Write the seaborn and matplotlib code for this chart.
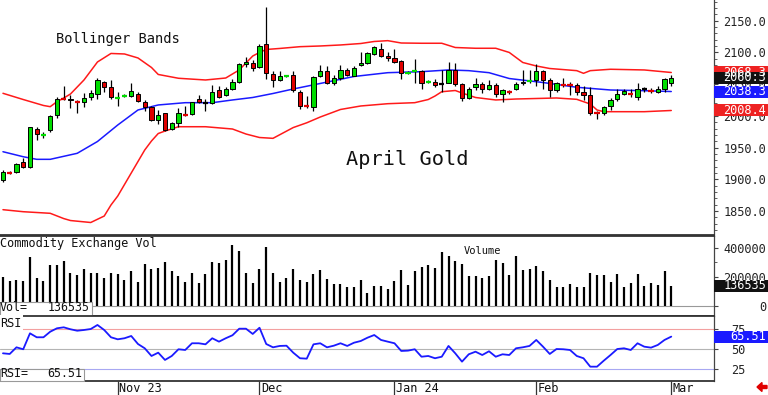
import numpy as np
import pandas as pd
import matplotlib
matplotlib.use("Agg")
import matplotlib.pyplot as plt
import matplotlib.transforms as mtransforms
from matplotlib.patches import Rectangle, FancyArrow
from matplotlib.ticker import MultipleLocator
import seaborn as sns

# April gold, daily bars (x = trading day index)
opens = [1899, 1911, 1912, 1927, 1919, 1979, 1969, 1978, 2001, 2028,
         2027, 2023, 2022, 2030, 2034, 2054, 2045, 2027, 2031, 2031,
         2035, 2021, 2014, 1994, 2004, 1980, 1988, 2003, 2003, 2026,
         2019.5, 2020, 2040, 2033, 2042, 2054, 2082, 2084, 2077, 2113,
         2066, 2057, 2062, 2064, 2038, 2016, 2014, 2063, 2070, 2052,
         2059, 2073, 2063, 2080, 2084, 2097, 2106, 2094, 2091, 2087,
         2067, 2070, 2071, 2053, 2054, 2050, 2052, 2072, 2050, 2028,
         2045, 2050, 2042, 2049, 2035, 2039, 2043, 2051, 2054, 2056,
         2071, 2056, 2040, 2050, 2050, 2049, 2038, 2033, 2005, 2004,
         2015, 2026, 2035, 2035, 2030, 2042, 2040, 2038, 2043, 2051]
highs = [1914, 1913, 1926, 1933, 1983, 1982, 1974, 2002, 2030, 2047,
         2033, 2025, 2036, 2041, 2059, 2055, 2056, 2037, 2034, 2052,
         2037, 2025, 2016, 2009, 2005, 1991, 2012, 2015, 2022, 2033,
         2026, 2049, 2047, 2045, 2058, 2083, 2092, 2088, 2114, 2171,
         2070, 2070, 2065, 2070, 2040, 2031, 2062, 2080, 2079, 2064,
         2080, 2075, 2078, 2101, 2101, 2110, 2115, 2101, 2106, 2088,
         2070, 2089, 2072, 2057, 2058, 2072, 2085, 2084, 2052, 2045,
         2059, 2054, 2056, 2052, 2042, 2041, 2054, 2072, 2072, 2082,
         2073, 2059, 2054, 2059, 2054, 2051, 2047, 2045, 2007, 2016,
         2028, 2043, 2043, 2043, 2051, 2045, 2044, 2047, 2059, 2064]
lows = [1895, 1908, 1910, 1918, 1917, 1962, 1965, 1975, 1997, 2025,
        2012, 2005, 2014, 2025, 2027, 2038, 2026, 2016, 2029, 2030,
        2022, 2007, 1992, 1987, 1976, 1978, 1982, 2000, 2001, 2020,
        2007, 2019, 2028, 2031, 2040, 2052, 2077, 2070, 2075, 2058,
        2046, 2055, 2061, 2038, 2010, 2013, 2007, 2061, 2050, 2049,
        2056, 2062, 2062, 2079, 2082, 2096, 2092, 2087, 2083, 2058,
        2066, 2051, 2042, 2052, 2046, 2037, 2051, 2047, 2024, 2026,
        2041, 2036, 2040, 2030, 2022, 2035, 2041, 2049, 2051, 2047,
        2043, 2030, 2038, 2045, 2033, 2033, 2025, 2001, 1995, 2002,
        2009, 2024, 2033, 2030, 2025, 2037, 2036, 2036, 2037, 2047]
closes = [1912, 1910, 1924, 1919, 1982, 1971, 1970, 2000, 2026, 2027,
          2025, 2022, 2028, 2036, 2056, 2045, 2030, 2028, 2032, 2039,
          2023, 2014, 1993, 2001, 1978, 1988, 2004, 2002, 2021, 2021,
          2019.5, 2038, 2030, 2042, 2054, 2082, 2085, 2075, 2110, 2068,
          2057, 2062, 2063, 2040, 2016, 2015, 2061, 2070, 2052, 2059,
          2072, 2064, 2076, 2083, 2099, 2108, 2094, 2091, 2085, 2067,
          2068, 2071, 2052, 2054, 2049, 2050, 2072, 2050, 2028, 2043,
          2050, 2042, 2049, 2034, 2040, 2038, 2050, 2053, 2055, 2071,
          2057, 2040, 2051, 2049, 2049, 2038, 2033, 2004, 2004, 2014,
          2025, 2034, 2039, 2034, 2043, 2042, 2039, 2043, 2058, 2060.3]

volume = [200000, 172200, 177100, 172200, 338900, 188900, 172200, 281200, 281200, 309000,
          223600, 211800, 251400, 227800, 227800, 188900, 223600, 218700, 177100, 239600,
          165300, 288200, 251400, 262500, 300000, 241700, 204800, 161100, 227800, 158300,
          218700, 304100, 293000, 316000, 420100, 380500, 223600, 158300, 251400, 408300,
          227800, 165300, 188900, 251400, 177100, 165300, 216700, 246500, 181900, 149300,
          149300, 130500, 126400, 177100, 84700, 135400, 135400, 112500, 172200, 246500,
          142400, 237500, 269400, 283300, 260400, 371500, 343700, 311100, 288200, 204800,
          204800, 188900, 204800, 316000, 293000, 211800, 343700, 246500, 251400, 274300,
          241700, 177100, 130500, 130500, 149300, 126400, 126400, 227800, 211800, 211800,
          165300, 218700, 126400, 154200, 218700, 135400, 158300, 142400, 237500, 136535]

rsi = [44.9, 44.1, 52.3, 49.9, 69.6, 64.7, 64.7, 71.6, 75.8, 77.0,
       74.6, 72.8, 73.7, 74.9, 79.9, 73.7, 64.7, 62.2, 63.5, 66.3,
       56.4, 51.1, 41.6, 45.7, 36.7, 41.6, 49.9, 49.0, 57.3, 57.3,
       56.0, 63.5, 59.3, 63.5, 67.2, 75.3, 75.3, 68.8, 76.5, 56.4,
       52.3, 54.0, 54.3, 45.7, 38.8, 38.3, 56.0, 57.3, 52.3, 54.3,
       57.3, 54.0, 58.0, 60.1, 64.2, 67.5, 61.4, 59.3, 57.3, 47.8,
       48.2, 49.9, 40.7, 41.6, 38.8, 40.7, 54.0, 44.9, 34.6, 43.7,
       46.9, 42.8, 47.4, 40.7, 43.7, 42.8, 51.1, 52.3, 54.0, 61.4,
       53.1, 44.1, 50.2, 49.9, 49.0, 41.6, 38.8, 28.4, 28.4, 35.8,
       42.8, 50.2, 51.1, 49.0, 57.3, 53.1, 51.9, 55.2, 61.4, 65.51]

# Bollinger bands at these bars
upper_idx = [0, 3, 6, 7, 8, 9, 10, 12, 14, 16, 18, 20, 22, 23, 26, 30, 33, 35, 37, 38,
             39, 41, 44, 47, 50, 53, 55, 57, 59, 62, 65, 67, 70, 73, 75, 77, 79, 81, 85, 86,
             87, 90, 95, 99]
upper_val = [2035.5, 2025.7, 2016.3, 2014.4, 2022.3, 2028.0, 2034.4, 2056.5, 2084.9, 2098.3,
             2097.5, 2091.2, 2076.2, 2065.2, 2059.2, 2056.5, 2059.6, 2072.3, 2094.3, 2099.9,
             2104.6, 2106.2, 2109.0, 2110.1, 2111.7, 2114.0, 2117.2, 2118.5, 2114.8, 2114.4,
             2114.4, 2107.7, 2106.5, 2106.5, 2099.9, 2084.1, 2078.6, 2074.6, 2071.2, 2067.0,
             2071.2, 2073.4, 2072.3, 2068.3]
mid_idx = [0, 3, 5, 7, 11, 14, 17, 20, 23, 27, 31, 34, 37, 40, 43, 47, 52, 57, 62, 66,
           69, 72, 75, 80, 85, 90, 95, 99]
mid_val = [1943.4, 1935.5, 1931.4, 1931.4, 1940.9, 1959.5, 1985.5, 2009.2, 2017.1, 2020.7,
           2020.7, 2025.0, 2028.9, 2035.2, 2042.3, 2051.0, 2062.0, 2068.0, 2069.6, 2072.3,
           2071.2, 2068.0, 2058.8, 2052.5, 2045.0, 2040.7, 2039.6, 2038.3]
lower_idx = [0, 3, 7, 9, 10, 13, 15, 16, 17, 19, 21, 22, 23, 24, 26, 30, 34, 36, 38, 40,
             43, 45, 47, 50, 53, 57, 61, 63, 64, 65, 67, 68, 70, 73, 76, 79, 82, 85, 87, 88,
             89, 95, 99]
lower_val = [1852.0, 1848.8, 1846.3, 1838.0, 1834.9, 1831.8, 1842.0, 1859.4, 1873.5, 1909.8,
             1946.1, 1960.3, 1972.1, 1976.0, 1982.8, 1982.8, 1979.2, 1971.3, 1965.8, 1964.5,
             1981.5, 1989.0, 1998.1, 2010.0, 2015.5, 2019.1, 2020.7, 2025.7, 2031.2, 2038.0,
             2039.9, 2036.0, 2028.9, 2025.0, 2026.5, 2027.3, 2028.1, 2026.0, 2018.6, 2009.2,
             2006.5, 2006.5, 2008.4]

month_pos = [17, 38, 58, 79, 99]
month_lbl = ["Nov 23", "Dec", "Jan 24", "Feb", "Mar"]
price_ticks = [1850, 1900, 1950, 2000, 2050, 2100, 2150]
vol_ticks = [0, 200000, 400000]
rsi_ticks = [25, 50, 75]

GREEN, RED, BLUE = "#00dd00", "#ff1a1a", "#1a1aff"

sns.set_style("white")
plt.rcParams["font.family"] = "DejaVu Sans Mono"

W, H = 768, 395
fig = plt.figure(figsize=(W / 100, H / 100), dpi=100)


def px_axes(top, bottom):
    return fig.add_axes([0, 1 - bottom / H, 714 / W, (bottom - top) / H])


ax = px_axes(0, 235.5)
axv = px_axes(235.5, 315.5)
axr = px_axes(315.5, 381)

for a in (ax, axv, axr):
    a.set_xlim(-0.44, 105.33)
    a.set_facecolor("white")
    a.spines["left"].set_visible(False)
    a.spines["right"].set_color("#444")
    a.spines["right"].set_linewidth(0.9)
    for s in ("top", "bottom"):
        a.spines[s].set_color("#333")
        a.spines[s].set_linewidth(1.3)
    a.yaxis.tick_right()
    a.tick_params(axis="y", which="major", length=3, width=0.8, color="#444",
                  labelsize=8.6, labelcolor="#222")
    a.tick_params(axis="y", which="minor", length=1.8, width=0.6, color="#444")
ax.spines["top"].set_visible(False)
ax.set_ylim(1811.3, 2182.6)
axv.set_ylim(-69400, 486000)
axr.set_ylim(10.7, 91.6)

# candles
df = pd.DataFrame({"o": opens, "h": highs, "l": lows, "c": closes})
df["i"] = np.arange(len(df))
df["lo"] = df[["o", "c"]].min(axis=1)
df["size"] = (df["c"] - df["o"]).abs()
df["col"] = np.where(df["c"] > df["o"], GREEN, np.where(df["c"] < df["o"], "#e00000", "black"))
ax.vlines(df["i"], df["l"], df["h"], color="black", lw=0.9, zorder=3)
big = df[df["size"] > 1.5]
ax.bar(big["i"], big["size"], bottom=big["lo"], width=0.62, color=list(big["col"]),
       edgecolor="black", linewidth=0.7, zorder=4)
small = df[df["size"] <= 1.5]
ax.hlines(small["c"], small["i"] - 0.4, small["i"] + 0.4, colors=list(small["col"]), lw=1.6, zorder=4)

sns.lineplot(x=upper_idx, y=upper_val, ax=ax, color=RED, lw=1.1, zorder=2)
sns.lineplot(x=mid_idx, y=mid_val, ax=ax, color=BLUE, lw=1.1, zorder=2)
sns.lineplot(x=lower_idx, y=lower_val, ax=ax, color=RED, lw=1.1, zorder=2)

ax.set_yticks(price_ticks)
ax.set_yticklabels([f"{t:.1f}" for t in price_ticks])
ax.yaxis.set_minor_locator(MultipleLocator(10))
ax.text(0.165, 0.835, "Bollinger Bands", transform=ax.transAxes, ha="center", va="center",
        fontsize=9.9, color="#111")
ax.text(0.571, 0.322, "April Gold", transform=ax.transAxes, ha="center", va="center",
        fontsize=14.6, color="#111")

# volume
axv.vlines(np.arange(len(volume)), 0, volume, color="black", lw=1.6, zorder=3)
axv.axhline(0, color="#999", lw=0.8, zorder=2)
axv.set_yticks(vol_ticks)
axv.set_yticklabels([str(t) for t in vol_ticks])
axv.yaxis.set_minor_locator(MultipleLocator(100000))
axv.text(0.0, 0.894, "Commodity Exchange Vol", transform=axv.transAxes, ha="left", va="center",
         fontsize=8.6, color="#111", zorder=6)
axv.text(0.676, 0.8125, "Volume", transform=axv.transAxes, ha="center", va="center",
         fontsize=7.5, color="#111")
axv.add_patch(Rectangle((0, 0), 91.7 / 714, 0.169, transform=axv.transAxes, fc="white",
                        ec="#999", lw=0.8, zorder=5, clip_on=False))
axv.text(0.0, 0.094, "Vol=", transform=axv.transAxes, ha="left", va="center", fontsize=8.4,
         color="#111", zorder=6)
axv.text(0.126, 0.094, f"{volume[-1]}", transform=axv.transAxes, ha="right", va="center",
         fontsize=8.4, color="#111", zorder=6)

# RSI
axr.axhline(75, color="#f3a0a0", lw=0.8, zorder=1)
axr.axhline(50, color="#b4b4b4", lw=0.8, zorder=1)
axr.axhline(25, color="#a8a8f2", lw=0.8, zorder=1)
sns.lineplot(x=np.arange(len(rsi)), y=rsi, ax=axr, color=BLUE, lw=1.3, zorder=3)
axr.set_yticks(rsi_ticks)
axr.set_yticklabels([str(t) for t in rsi_ticks])
axr.text(0.0, 0.885, "RSI", transform=axr.transAxes, ha="left", va="center", fontsize=8.6,
         color="#111", zorder=6, bbox=dict(boxstyle="square,pad=0.15", fc="white", ec="none"))
axr.add_patch(Rectangle((0, 0), 84 / 714, 0.179, transform=axr.transAxes, fc="white",
                        ec="#999", lw=0.8, zorder=5, clip_on=False))
axr.text(0.0, 0.107, "RSI=", transform=axr.transAxes, ha="left", va="center", fontsize=8.4,
         color="#111", zorder=6)
axr.text(0.115, 0.107, f"{rsi[-1]:.2f}", transform=axr.transAxes, ha="right", va="center",
         fontsize=8.4, color="#111", zorder=6)

# tick label placement on the right
tick_px = 3 * 100 / 72
for a, align, right_px in ((ax, "right", 766), (axv, "right", 766), (axr, "left", 731)):
    a.tick_params(axis="y", pad=(right_px - 714 - tick_px) * 72 / 100)
    for lbl in a.get_yticklabels():
        lbl.set_horizontalalignment(align)

# x axis: month ticks under the RSI panel
for a in (ax, axv):
    a.tick_params(axis="x", bottom=False, labelbottom=False)
axr.set_xticks(month_pos)
axr.set_xticklabels([])
axr.tick_params(axis="x", bottom=True, length=10, width=0.9, color="#333", direction="out")
xtr = mtransforms.blended_transform_factory(axr.transData, axr.transAxes)
for p, lbl in zip(month_pos, month_lbl):
    axr.text(p + 0.2, -0.107, lbl, transform=xtr, ha="left", va="center", fontsize=8.6,
             color="#111", clip_on=False)


# value tags on the right edge
def tag(axis, val, txt, fc):
    lo, hi = axis.get_ylim()
    h = 12 * (hi - lo) / (axis.get_position().height * H)
    tr = mtransforms.blended_transform_factory(axis.transAxes, axis.transData)
    axis.add_patch(Rectangle((1, val - h / 2), 56 / 714, h, transform=tr, fc=fc, ec="none",
                             clip_on=False, zorder=10))
    axis.text(1 + 52 / 714, val, txt, transform=tr, ha="right", va="center", color="white",
              fontsize=8.6, clip_on=False, zorder=11)


tag(ax, upper_val[-1], f"{upper_val[-1]:.1f}", "#ee2222")
tag(ax, closes[-1], f"{closes[-1]:.1f}", "#111111")
tag(ax, mid_val[-1], f"{mid_val[-1]:.1f}", BLUE)
tag(ax, lower_val[-1], f"{lower_val[-1]:.1f}", "#ee2222")
tag(axv, volume[-1], f"{volume[-1]}", "#111111")
tag(axr, rsi[-1], f"{rsi[-1]:.2f}", BLUE)

fig.patches.append(FancyArrow(767 / W, 1 - 387 / H, -10 / W, 0, width=3 / H, head_width=9 / H,
                              head_length=5 / W, length_includes_head=True,
                              transform=fig.transFigure, color="#e00000"))

fig.savefig("out.png", dpi=100)
